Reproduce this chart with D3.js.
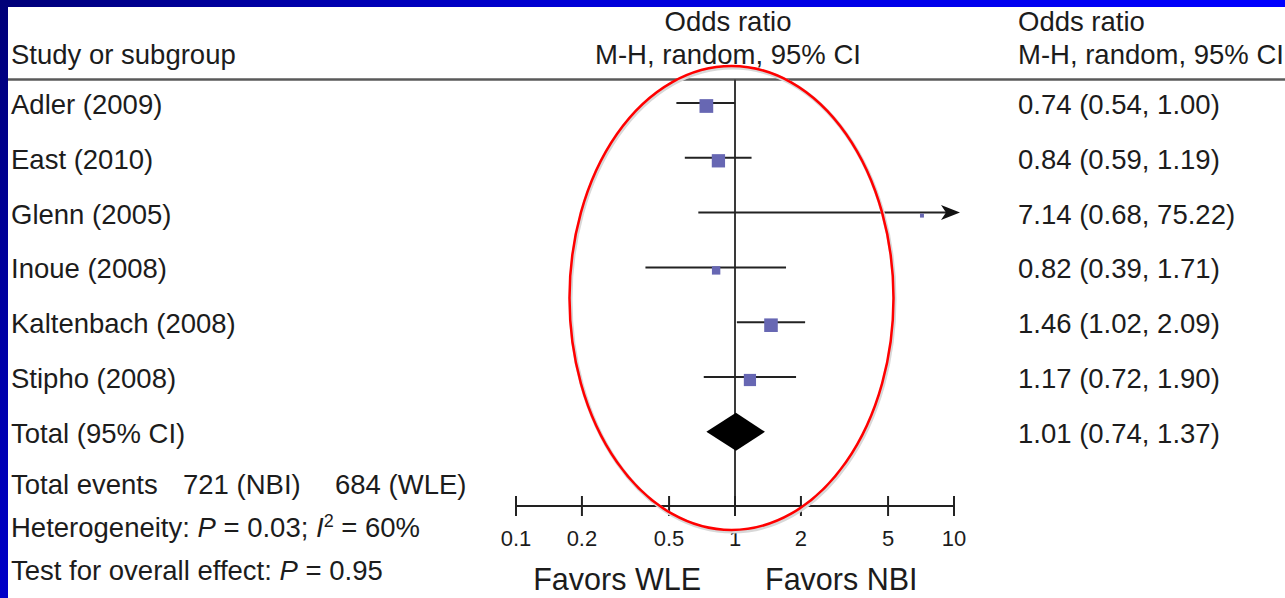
<!DOCTYPE html>
<html>
<head>
<meta charset="utf-8">
<script src="https://cdn.jsdelivr.net/npm/d3@7"></script>
<style>
  html, body { margin: 0; padding: 0; background: #fff; }
  svg { display: block; }
  text { font-family: "Liberation Sans", Arial, Helvetica, sans-serif; fill: #1c1c1c; }
</style>
</head>
<body>
<svg id="chart" width="1285" height="598"></svg>
<script>
// ---- data ----
const studies = ["Adler (2009)", "East (2010)", "Glenn (2005)", "Inoue (2008)", "Kaltenbach (2008)", "Stipho (2008)"];
const oddsRatio = [0.74, 0.84, 7.14, 0.82, 1.46, 1.17];
const ciLower = [0.54, 0.59, 0.68, 0.39, 1.02, 0.72];
const ciUpper = [1.00, 1.19, 75.22, 1.71, 2.09, 1.90];
const weights = [24, 22.5, 2, 9, 23.5, 19];
const totalLabel = "Total (95% CI)";
const totalOR = [1.01, 0.74, 1.37];
const axisTicks = [0.1, 0.2, 0.5, 1, 2, 5, 10];
const headerMid = ["Odds ratio", "M-H, random, 95% CI"];
const headerLeft = "Study or subgroup";
const favorLabels = ["Favors WLE", "Favors NBI"];
const totalEvents = ["Total events", "721 (NBI)", "684 (WLE)"];

const svg = d3.select("#chart");
const W = 1285, H = 598;

// ---- frame ----
const defs = svg.append("defs");
const gTop = defs.append("linearGradient").attr("id", "gTop").attr("x1", 0).attr("x2", 1).attr("y1", 0).attr("y2", 0);
gTop.append("stop").attr("offset", "0%").attr("stop-color", "#000078");
gTop.append("stop").attr("offset", "45%").attr("stop-color", "#0000d8");
gTop.append("stop").attr("offset", "100%").attr("stop-color", "#0000ff");
const gLeft = defs.append("linearGradient").attr("id", "gLeft").attr("x1", 0).attr("x2", 0).attr("y1", 0).attr("y2", 1);
gLeft.append("stop").attr("offset", "0%").attr("stop-color", "#000078");
gLeft.append("stop").attr("offset", "100%").attr("stop-color", "#0000c8");

svg.append("rect").attr("x", 0).attr("y", 0).attr("width", W).attr("height", H).attr("fill", "#fff");
svg.append("rect").attr("x", 0).attr("y", 0).attr("width", W).attr("height", 7).attr("fill", "url(#gTop)");
svg.append("rect").attr("x", 0).attr("y", 0).attr("width", 8).attr("height", H).attr("fill", "url(#gLeft)");

// ---- scales ----
const x = d3.scaleLog().domain([0.1, 10]).range([516, 954]);
const rowLabels = studies.concat([totalLabel]);
const y = d3.scaleLinear().domain([0, rowLabels.length - 1]).range([103, 103 + 54.8 * (rowLabels.length - 1)]);
const axisY = 506;
const headerLineY = 79.5;
const leftX = 11, rightX = 1018;
const fs = 27.5;

// ---- header ----
svg.append("text").attr("x", leftX).attr("y", 64).attr("font-size", fs).text(headerLeft);
headerMid.forEach((t, i) => {
  svg.append("text").attr("x", 728).attr("y", 31 + i * 33).attr("text-anchor", "middle").attr("font-size", fs).text(t);
  svg.append("text").attr("x", rightX).attr("y", 31 + i * 33).attr("font-size", fs).text(t);
});
svg.append("line").attr("x1", 8).attr("x2", W).attr("y1", headerLineY).attr("y2", headerLineY)
  .attr("stroke", "#5a5a5a").attr("stroke-width", 2.5);

// ---- vertical line of no effect ----
svg.append("line").attr("x1", x(1)).attr("x2", x(1)).attr("y1", headerLineY).attr("y2", axisY)
  .attr("stroke", "#3a3a3a").attr("stroke-width", 2);

// ---- row labels ----
const fmt = d3.format(".2f");
rowLabels.forEach((s, i) => {
  svg.append("text").attr("x", leftX).attr("y", y(i) + 11).attr("font-size", fs).text(s);
});
oddsRatio.forEach((v, i) => {
  svg.append("text").attr("x", rightX).attr("y", y(i) + 11).attr("font-size", fs)
    .text(`${fmt(v)} (${fmt(ciLower[i])}, ${fmt(ciUpper[i])})`);
});
svg.append("text").attr("x", rightX).attr("y", y(studies.length) + 11).attr("font-size", fs)
  .text(`${fmt(totalOR[0])} (${fmt(totalOR[1])}, ${fmt(totalOR[2])})`);

// ---- CI lines ----
const xMax = x.domain()[1];
const g = svg.append("g");
oddsRatio.forEach((v, i) => {
  const clipped = ciUpper[i] > xMax;
  const x2 = clipped ? x(xMax) + 6 : x(ciUpper[i]);
  g.append("line").attr("x1", x(ciLower[i])).attr("x2", clipped ? x2 - 10 : x2)
    .attr("y1", y(i)).attr("y2", y(i)).attr("stroke", "#222").attr("stroke-width", 2);
  if (clipped) {
    g.append("path")
      .attr("d", `M${x2},${y(i)} L${x2 - 19},${y(i) - 7.5} L${x2 - 14},${y(i)} L${x2 - 19},${y(i) + 7.5} Z`)
      .attr("fill", "#111");
  }
});
// ---- weight squares ----
oddsRatio.forEach((v, i) => {
  const s = 2.8 * Math.sqrt(weights[i]);
  g.append("rect").attr("x", x(v) - s / 2).attr("y", y(i) + 3 - s / 2)
    .attr("width", s).attr("height", s).attr("fill", "#6767b3");
});

// ---- total diamond ----
const ty = y(studies.length);
svg.append("path")
  .attr("d", `M${x(totalOR[1])},${ty} L${x(totalOR[0])},${ty - 19} L${x(totalOR[2])},${ty} L${x(totalOR[0])},${ty + 19} Z`)
  .attr("fill", "#000");

// ---- axis ----
const ax = svg.append("g");
ax.append("line").attr("x1", x(0.1)).attr("x2", x(10)).attr("y1", axisY).attr("y2", axisY)
  .attr("stroke", "#222").attr("stroke-width", 2);
axisTicks.forEach(t => {
  ax.append("line").attr("x1", x(t)).attr("x2", x(t)).attr("y1", axisY - 10).attr("y2", axisY + 10)
    .attr("stroke", "#222").attr("stroke-width", 2);
  ax.append("text").attr("x", x(t)).attr("y", 546).attr("text-anchor", "middle")
    .attr("font-size", 22).attr("fill", "#2a2a2a").text(t);
});
svg.append("text").attr("x", x(1) - 34).attr("y", 590).attr("text-anchor", "end").attr("font-size", 30.5).text(favorLabels[0]);
svg.append("text").attr("x", x(1) + 30).attr("y", 590).attr("font-size", 30.5).text(favorLabels[1]);

// ---- footer ----
svg.append("text").attr("x", leftX).attr("y", 494).attr("font-size", fs).text(totalEvents[0]);
svg.append("text").attr("x", 183).attr("y", 494).attr("font-size", fs).text(totalEvents[1]);
svg.append("text").attr("x", 335).attr("y", 494).attr("font-size", fs).text(totalEvents[2]);

const het = svg.append("text").attr("x", leftX).attr("y", 537).attr("font-size", fs);
het.append("tspan").text("Heterogeneity: ");
het.append("tspan").attr("font-style", "italic").text("P");
het.append("tspan").text(" = 0.03; ");
het.append("tspan").attr("font-style", "italic").text("I");
het.append("tspan").attr("font-size", 18).attr("dy", -10).text("2");
het.append("tspan").attr("dy", 10).text(" = 60%");

const tst = svg.append("text").attr("x", leftX).attr("y", 580).attr("font-size", fs);
tst.append("tspan").text("Test for overall effect: ");
tst.append("tspan").attr("font-style", "italic").text("P");
tst.append("tspan").text(" = 0.95");

// ---- red highlight ellipse ----
svg.append("ellipse").attr("cx", 731.5).attr("cy", 298).attr("rx", 162).attr("ry", 232)
  .attr("fill", "none").attr("stroke", "#d8d8d8").attr("stroke-width", 4).attr("transform", "translate(1,1.5)");
svg.append("ellipse").attr("cx", 731.5).attr("cy", 298).attr("rx", 162).attr("ry", 232)
  .attr("fill", "none").attr("stroke", "#ff0000").attr("stroke-width", 2.5);
</script>
</body>
</html>
